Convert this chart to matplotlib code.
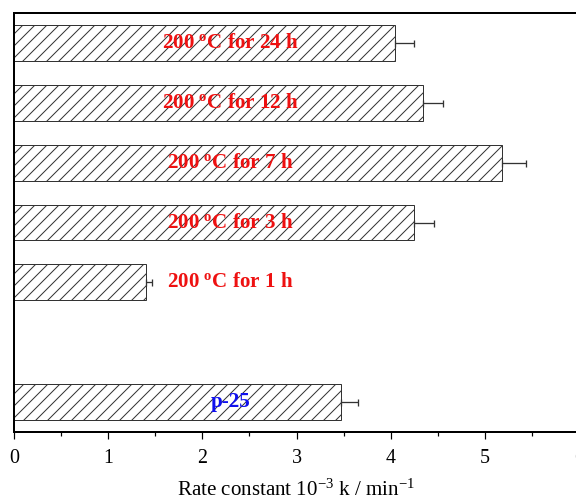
import numpy as np
import matplotlib
matplotlib.use("Agg")
import matplotlib.pyplot as plt

plt.rcParams['font.family'] = ['Liberation Serif', 'DejaVu Serif']
plt.rcParams['mathtext.fontset'] = 'custom'
plt.rcParams['mathtext.rm'] = 'Liberation Serif'
plt.rcParams['mathtext.it'] = 'Liberation Serif:italic'
plt.rcParams['mathtext.bf'] = 'Liberation Serif:bold'
plt.rcParams['hatch.linewidth'] = 1.0

# Data (bottom to top); empty slot kept as a gap
samples = ["p-25", "", "200 °C 1 h", "200 °C 3 h", "200 °C 7 h", "200 °C 12 h", "200 °C 24 h"]
rates = [3.47, np.nan, 1.40, 4.25, 5.18, 4.34, 4.05]
errors = [0.18, np.nan, 0.07, 0.21, 0.26, 0.22, 0.20]
bar_labels = ["p-25", "", r"200 $^\mathbf{o}$C for 1 h", r"200 $^\mathbf{o}$C for 3 h",
              r"200 $^\mathbf{o}$C for 7 h", r"200 $^\mathbf{o}$C for 12 h",
              r"200 $^\mathbf{o}$C for 24 h"]
label_colors = ["#1010ee", None, "#ee1111", "#ee1111", "#ee1111", "#ee1111", "#ee1111"]
xticks = [0, 1, 2, 3, 4, 5, 6]

DPI = 72
fig = plt.figure(figsize=(576 / DPI, 501 / DPI), dpi=DPI)
ax = fig.add_axes([14 / 576, 1 - 432 / 501, (579 - 14) / 576, (432 - 13) / 501])

y = np.arange(len(samples))
ax.barh(y, rates, height=0.6, color='white', edgecolor='#333333',
        linewidth=1.0, hatch='//')
ax.errorbar(rates, y, xerr=[np.zeros(len(errors)), errors], fmt='none',
            ecolor='#333333', elinewidth=1.3, capsize=3.5, capthick=1.3)

for yi, lab, col in zip(y, bar_labels, label_colors):
    if lab:
        ax.text(2.3, yi, lab, color=col, fontsize=21, fontweight='bold',
                ha='center', va='center')

ax.set_xlim(0, 6)
ax.set_ylim(-0.5, 6.5)
ax.set_yticks([])
ax.set_xticks(xticks)
ax.set_xticks(np.arange(0.5, 6, 1), minor=True)
ax.tick_params(axis='x', which='major', direction='out', length=7, width=1.2,
               labelsize=20, pad=10)
ax.tick_params(axis='x', which='minor', direction='out', length=4, width=1.2)
for s in ax.spines.values():
    s.set_linewidth(2)
ax.set_xlabel(r"Rate constant 10$^{-3}$ k / min$^{-1}$", fontsize=21, labelpad=12)

fig.savefig("out.png", dpi=DPI)
